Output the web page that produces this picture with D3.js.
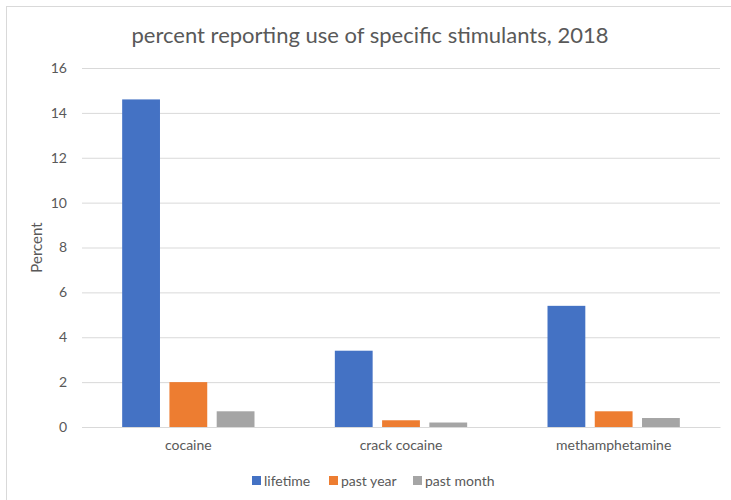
<!DOCTYPE html>
<html>
<head>
<meta charset="utf-8">
<script src="https://cdn.jsdelivr.net/npm/d3@7"></script>
<style>
  html, body { margin: 0; padding: 0; background: #ffffff; }
  svg { display: block; font-family: Lato, "Open Sans", sans-serif; }
</style>
</head>
<body>
<svg id="chart" width="731" height="500"></svg>
<script>
const categories = ["cocaine", "crack cocaine", "methamphetamine"];
const seriesNames = ["lifetime", "past year", "past month"];
const lifetime = [14.6, 3.4, 5.4];
const pastYear = [2.0, 0.3, 0.7];
const pastMonth = [0.7, 0.2, 0.4];
const yTicks = [0, 2, 4, 6, 8, 10, 12, 14, 16];
const colors = ["#4472C4", "#ED7D31", "#A5A5A5"];

const seriesValues = [lifetime, pastYear, pastMonth];
const data = categories.map((c, i) => ({
  category: c,
  values: seriesNames.map((s, j) => ({ series: s, value: seriesValues[j][i] }))
}));

const svg = d3.select("#chart");
const FONT = "Lato, 'Open Sans', sans-serif";

// outer border
svg.append("rect")
  .attr("x", 6.5).attr("y", 6.5)
  .attr("width", 760).attr("height", 520)
  .attr("fill", "#ffffff")
  .attr("stroke", "#d9d9d9").attr("stroke-width", 1);

const plot = { left: 82, right: 720, top: 68, bottom: 427 };

const x0 = d3.scaleBand().domain(categories).range([plot.left, plot.right]).padding(0);
const x1 = d3.scaleBand().domain(seriesNames).range([0, x0.bandwidth()])
  .paddingInner(0.2).paddingOuter(0.85);
const y = d3.scaleLinear().domain([0, 16]).range([plot.bottom, plot.top]);

// gridlines + y labels
const yAxis = d3.axisLeft(y).tickValues(yTicks)
  .tickSize(-(plot.right - plot.left)).tickPadding(15).tickFormat(d3.format("d"));
const gy = svg.append("g").attr("transform", `translate(${plot.left},0)`).call(yAxis);
gy.select(".domain").remove();
gy.selectAll(".tick line").attr("stroke", "#d9d9d9").attr("stroke-width", 1);
gy.selectAll(".tick text").attr("fill", "#595959").style("font-size", "14px")
  .style("font-family", FONT);

// bars
const groups = svg.append("g").selectAll("g").data(data).join("g")
  .attr("transform", d => `translate(${x0(d.category)},0)`);
groups.selectAll("rect").data(d => d.values).join("rect")
  .attr("x", d => x1(d.series))
  .attr("width", x1.bandwidth())
  .attr("y", d => y(d.value))
  .attr("height", d => y(0) - y(d.value))
  .attr("fill", (d, i) => colors[i]);

// x axis
const xAxis = d3.axisBottom(x0).tickSize(0).tickPadding(13);
const gx = svg.append("g").attr("transform", `translate(0,${plot.bottom})`).call(xAxis);
gx.select(".domain").attr("stroke", "#d9d9d9");
gx.selectAll(".tick text").attr("fill", "#595959").style("font-size", "14px")
  .style("font-family", FONT);

// y axis title
svg.append("text")
  .attr("transform", `translate(42,${(plot.top + plot.bottom) / 2}) rotate(-90)`)
  .attr("text-anchor", "middle")
  .attr("fill", "#595959").style("font-size", "15px")
  .text("Percent");

// title
svg.append("text")
  .attr("x", 370).attr("y", 43)
  .attr("text-anchor", "middle")
  .attr("fill", "#595959").style("font-size", "22px")
  .text("percent reporting use of specific stimulants, 2018");

// legend
const legendX = [252, 329, 413];
const lg = svg.append("g").selectAll("g").data(seriesNames).join("g")
  .attr("transform", (d, i) => `translate(${legendX[i]},476)`);
lg.append("rect").attr("width", 9).attr("height", 9).attr("fill", (d, i) => colors[i]);
lg.append("text").attr("x", 12).attr("y", 9.5)
  .attr("fill", "#595959").style("font-size", "14px").text(d => d);
</script>
</body>
</html>
